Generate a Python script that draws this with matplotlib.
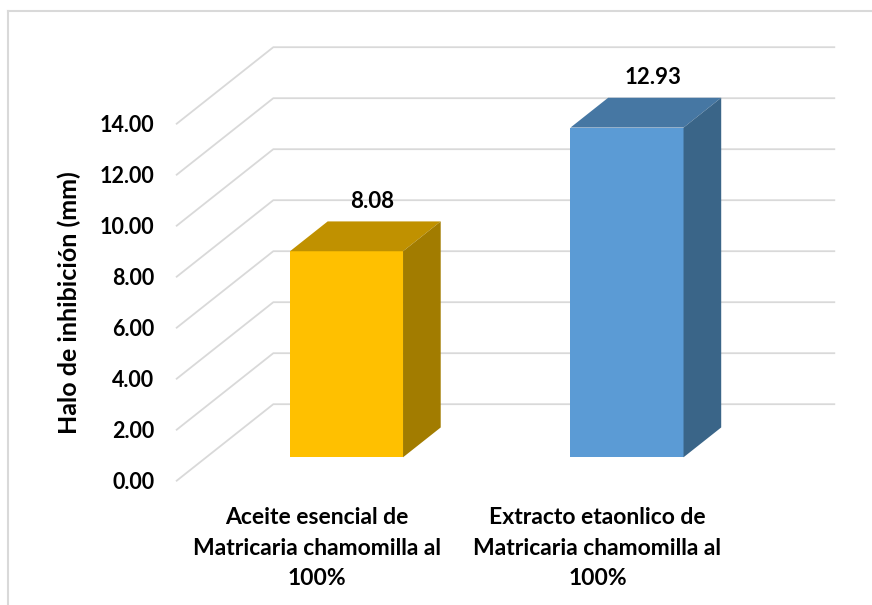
import numpy as np
import matplotlib
matplotlib.use("Agg")
import matplotlib.pyplot as plt
from matplotlib.patches import Polygon
from matplotlib.lines import Line2D

plt.rcParams['font.family'] = ['Lato', 'DejaVu Sans']
plt.rcParams['font.weight'] = 'bold'

categories = ["Aceite esencial de\nMatricaria chamomilla al\n100%",
              "Extracto etaonlico de\nMatricaria chamomilla al\n100%"]
values = [8.08, 12.93]
yticks = [0, 2, 4, 6, 8, 10, 12, 14]
ylabel = "Halo de inhibición (mm)"

front_colors = ["#FFC000", "#5B9BD5"]
top_colors = ["#C09100", "#4677A3"]
side_colors = ["#A27C00", "#3A6588"]
grid_color = "#D9D9D9"

# 3d look: full depth offset in data units, bar depth slab and width
depth_dx, depth_dy = 0.3444, 3.0
d0, d1 = 0.306, 0.696
half_w = 0.2015

fig = plt.figure(figsize=(8.72, 6.05), dpi=100)
ax = fig.add_axes([176.7 / 872, (605 - 480.7) / 605, 561 / 872, 357 / 605])
ax.set_xlim(0, len(categories))
ax.set_ylim(0, 14)
for s in ax.spines.values():
    s.set_visible(False)

# walls: left diagonal + back horizontal gridlines
for v in yticks:
    ax.plot([0, depth_dx, len(categories) + depth_dx],
            [v, v + depth_dy, v + depth_dy],
            color=grid_color, lw=1.3, clip_on=False, zorder=1)

for i, v in enumerate(values):
    c = i + 0.5
    xl0, xr0 = c - half_w + d0 * depth_dx, c + half_w + d0 * depth_dx
    xl1, xr1 = c - half_w + d1 * depth_dx, c + half_w + d1 * depth_dx
    y0, y1 = d0 * depth_dy, d1 * depth_dy
    front = Polygon([(xl0, y0), (xr0, y0), (xr0, v + y0), (xl0, v + y0)],
                    closed=True, fc=front_colors[i], ec='none', clip_on=False, zorder=3)
    top = Polygon([(xl0, v + y0), (xr0, v + y0), (xr1, v + y1), (xl1, v + y1)],
                  closed=True, fc=top_colors[i], ec='none', clip_on=False, zorder=3)
    side = Polygon([(xr0, y0), (xr1, y1), (xr1, v + y1), (xr0, v + y0)],
                   closed=True, fc=side_colors[i], ec='none', clip_on=False, zorder=3)
    for p in (front, top, side):
        ax.add_patch(p)
    ax.annotate(f"{v:.2f}", xy=(c + (d0 + d1) / 2 * depth_dx, v + (d0 + d1) / 2 * depth_dy),
                xytext=(5, 25), textcoords='offset points', ha='center', va='center',
                fontsize=16, fontweight='bold', color='black', zorder=5,
                annotation_clip=False)

ax.set_yticks(yticks)
ax.set_yticklabels([f"{t:.2f}" for t in yticks], fontsize=15.5, fontweight='bold')
ax.set_xticks([i + 0.5 for i in range(len(categories))])
ax.set_xticklabels(categories, fontsize=16.5, fontweight='bold', linespacing=1.57)
ax.tick_params(axis='y', length=0, pad=16)
ax.tick_params(axis='x', length=0, pad=19)
ax.set_ylabel(ylabel, fontsize=18, fontweight='bold')
ax.yaxis.set_label_coords(-0.17, 0.5)
ax.set_facecolor('none')

# outer chart border (left and top visible)
fig.add_artist(Line2D([8 / 872, 8 / 872], [0, 1 - 10.5 / 605], transform=fig.transFigure,
                      color=grid_color, lw=1.5))
fig.add_artist(Line2D([8 / 872, 1], [1 - 10.5 / 605, 1 - 10.5 / 605], transform=fig.transFigure,
                      color=grid_color, lw=1.5))

fig.savefig("out.png", dpi=100, facecolor='white')
